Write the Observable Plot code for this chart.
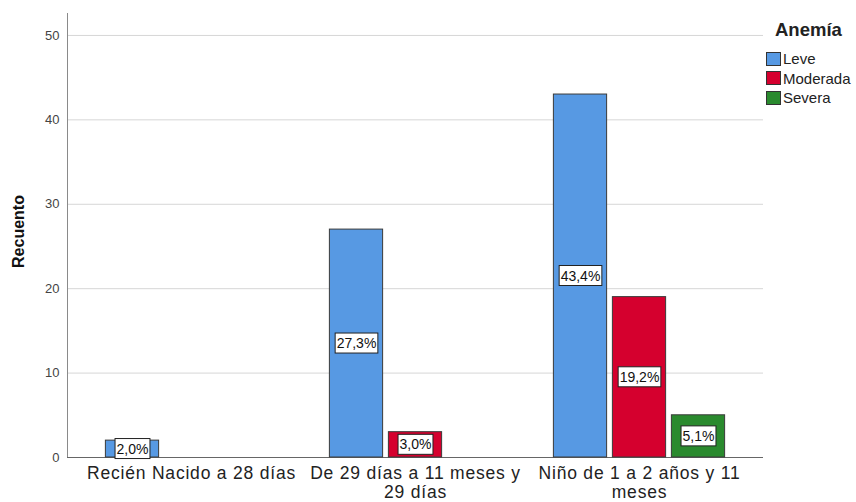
<!DOCTYPE html>
<html><head><meta charset="utf-8">
<script src="https://cdn.jsdelivr.net/npm/d3@7"></script>
<script src="https://cdn.jsdelivr.net/npm/@observablehq/plot@0.6"></script>
<style>
body{margin:0;background:#fff;font-family:"Liberation Sans",Arial,sans-serif;}
#wrap{position:relative;width:856px;height:502px;}
#legend{position:absolute;left:766px;top:19px;font-family:"Liberation Sans",Arial,sans-serif;color:#222;}
#legend .title{font-weight:bold;font-size:18.5px;line-height:22px;margin-left:9px;margin-bottom:8px;}
#legend .row{display:flex;align-items:center;height:19.5px;font-size:15px;}
#legend .sw{width:15px;height:14px;box-sizing:border-box;border:1px solid #333;margin-right:2px;flex:none;}
g[aria-label="x-axis tick label"] text{letter-spacing:0.8px;}
</style></head><body><div id="wrap"></div>
<script>
const groups = ["Recién Nacido a 28 días", "De 29 días a 11 meses y 29 días", "Niño de 1 a 2 años y 11 meses"];
const groupLabels = ["Recién Nacido a 28 días", "De 29 días a 11 meses y\n29 días", "Niño de 1 a 2 años y 11\nmeses"];
const severities = ["Leve", "Moderada", "Severa"];
const severityColors = ["#5799e3", "#d5002e", "#2a8a2e"];
const leve = [2, 27, 43];
const moderada = [0, 3, 19];
const severa = [0, 0, 5];
const yTicks = [0, 10, 20, 30, 40, 50];

const seriesValues = [leve, moderada, severa];
const total = d3.sum(seriesValues.flat());
const data = [];
severities.forEach((s, si) => groups.forEach((g, gi) => {
  const c = seriesValues[si][gi];
  data.push({group: g, sev: s, si, count: c, pct: (c / total * 100).toFixed(1).replace(".", ",") + "%"});
}));

const W = 856, H = 502, mL = 67, mR = 93, mT = 13, mB = 45;
const padOuter = 0.0517;
const bw = (W - mL - mR) / (3 + 2 * padOuter);
const slot = 59, barW = 53.5;

const marks = [
  Plot.gridY(yTicks.filter(t => t > 0), {stroke: "#d6d6d6", strokeOpacity: 1}),
  Plot.frame({anchor: "left", stroke: "#8a8a8a"}),
  Plot.ruleY([0], {stroke: "#666"}),
  Plot.axisY({ticks: yTicks, tickSize: 0, tickPadding: 8, fontSize: 13, color: "#444", label: null}),
  Plot.axisX({tickSize: 0, tickPadding: 7, fontSize: 17.5, color: "#222", label: null, lineHeight: 1.13,
    tickFormat: g => groupLabels[groups.indexOf(g)]}),
  Plot.text(["Recuento"], {frameAnchor: "left", textAnchor: "middle", rotate: -90, dx: -49, dy: -4, fontSize: 16, fontWeight: "bold", fill: "#111"})
];
severities.forEach((s, si) => {
  const iL = bw / 2 + (si - 1) * slot - barW / 2;
  const iR = bw - iL - barW;
  const rows = data.filter(d => d.sev === s && d.count > 0);
  marks.push(Plot.barY(rows, {x: "group", y: "count", fill: "sev", stroke: "#3a3a3a", strokeWidth: 1, insetLeft: iL, insetRight: iR}));
});
severities.forEach((s, si) => {
  const rows = data.filter(d => d.sev === s && d.count > 0);
  marks.push(Plot.text(rows, {x: "group", y: d => d.count / 2, text: "pct", dx: (si - 1) * slot, fontSize: 14, fill: "#111"}));
});

const chart = Plot.plot({
  width: W, height: H,
  marginLeft: mL, marginRight: mR, marginTop: mT, marginBottom: mB,
  style: {fontFamily: "'Liberation Sans', Arial, sans-serif", background: "#fff"},
  x: {domain: groups, paddingInner: 0, paddingOuter: padOuter, axis: null},
  y: {domain: [0, 52.6], axis: null},
  color: {domain: severities, range: severityColors},
  marks
});
const wrap = document.getElementById("wrap");
wrap.appendChild(chart);

// white boxes behind percentage labels
d3.select(chart).selectAll("text").filter(function() { return /%$/.test(this.textContent); }).each(function() {
  const b = this.getBBox();
  const r = document.createElementNS("http://www.w3.org/2000/svg", "rect");
  r.setAttribute("x", b.x - 1.5);
  r.setAttribute("y", b.y - 2);
  r.setAttribute("width", b.width + 3);
  r.setAttribute("height", b.height + 4);
  r.setAttribute("fill", "#fff");
  r.setAttribute("stroke", "#222");
  r.setAttribute("stroke-width", 1);
  const t = this.getAttribute("transform");
  if (t) r.setAttribute("transform", t);
  this.parentNode.insertBefore(r, this);
});

// legend
const cs = chart.scale("color");
const leg = document.createElement("div");
leg.id = "legend";
const title = document.createElement("div");
title.className = "title"; title.textContent = "Anemía";
leg.appendChild(title);
cs.domain.forEach((s, i) => {
  const row = document.createElement("div"); row.className = "row";
  const sw = document.createElement("div"); sw.className = "sw"; sw.style.background = cs.range[i];
  const lb = document.createElement("span"); lb.textContent = s;
  row.appendChild(sw); row.appendChild(lb); leg.appendChild(row);
});
wrap.appendChild(leg);
</script></body></html>
